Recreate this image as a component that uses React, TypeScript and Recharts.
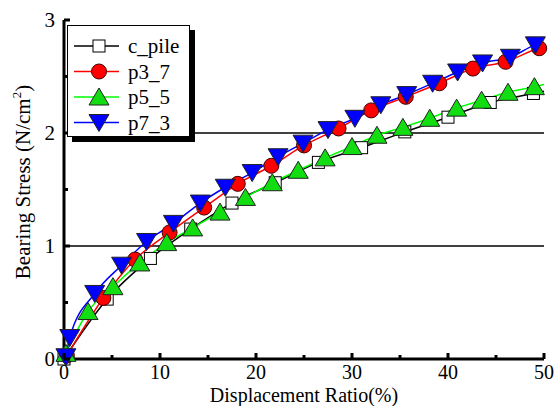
import React from "react"
import { LineChart, Line, XAxis, YAxis, ReferenceLine } from "recharts"

// c_pile
const cPileX = [0, 4.5, 9.0, 13.2, 17.5, 22.0, 26.5, 31.0, 35.5, 40.0, 44.4, 48.9, 50]
const cPileY = [0, 0.53, 0.89, 1.15, 1.38, 1.56, 1.74, 1.87, 2.01, 2.14, 2.27, 2.35, 2.37]
// p3_7
const p37X = [0.3, 4.1, 7.4, 11.0, 14.6, 18.1, 21.6, 25.0, 28.6, 32.0, 35.6, 39.1, 42.6, 46.0, 49.5, 50]
const p37Y = [0.03, 0.54, 0.88, 1.12, 1.34, 1.55, 1.71, 1.89, 2.04, 2.2, 2.32, 2.44, 2.57, 2.63, 2.75, 2.76]
// p5_5
const p55X = [0.2, 2.5, 5.1, 7.9, 10.7, 13.4, 16.25, 18.9, 21.7, 24.4, 27.2, 30.0, 32.6, 35.3, 38.1, 40.9, 43.5, 46.25, 49.0, 50]
const p55Y = [0.05, 0.42, 0.64, 0.85, 1.03, 1.16, 1.3, 1.43, 1.56, 1.67, 1.78, 1.88, 1.98, 2.05, 2.13, 2.22, 2.29, 2.36, 2.41, 2.43]
// p7_3
const p73X = [0.2, 0.6, 3.2, 6.0, 8.6, 11.4, 14.2, 16.8, 19.6, 22.3, 24.9, 27.5, 30.3, 33.0, 35.7, 38.4, 41.0, 43.6, 46.5, 49.1, 50]
const p73Y = [0.02, 0.19, 0.58, 0.83, 1.04, 1.2, 1.38, 1.52, 1.65, 1.79, 1.91, 2.03, 2.13, 2.25, 2.34, 2.44, 2.54, 2.62, 2.67, 2.78, 2.8]

const xTicks = [0, 5, 10, 15, 20, 25, 30, 35, 40, 45, 50]
const yTicks = [0, 0.5, 1, 1.5, 2, 2.5, 3]

const zip = (xs: number[], ys: number[]) => xs.map((x, i) => ({ x, y: ys[i] }))
const cPileData = zip(cPileX, cPileY)
const p37Data = zip(p37X, p37Y)
const p55Data = zip(p55X, p55Y)
const p73Data = zip(p73X, p73Y)

const FONT = "'Liberation Serif', 'Times New Roman', serif"
const txt = { fontFamily: FONT, fontSize: 21, fill: "#000" }
const txtSm = { fontFamily: FONT, fontSize: 20, fill: "#000" }

// markers, the last point (axis end) has no marker
const makeDot = (shape: string, len: number) => (props: any) => {
  const { cx, cy, index } = props
  if (cx == null || cy == null || index === len - 1) return <g key={`d-${shape}-${index}`} />
  const k = `d-${shape}-${index}`
  if (shape === "square")
    return <rect key={k} x={cx - 6} y={cy - 6} width={12} height={12} fill="#fff" stroke="#000" strokeWidth={1} />
  if (shape === "circle")
    return <circle key={k} cx={cx} cy={cy} r={7.5} fill="#ff0000" stroke="#400" strokeWidth={1} />
  if (shape === "up")
    return (
      <polygon key={k} points={`${cx},${cy - 9} ${cx - 10},${cy + 8} ${cx + 10},${cy + 8}`}
        fill="#11dd11" stroke="#222" strokeWidth={1} />
    )
  return (
    <polygon key={k} points={`${cx - 10},${cy - 8} ${cx + 10},${cy - 8} ${cx},${cy + 9}`}
      fill="#0000ff" stroke="#222" strokeWidth={1} />
  )
}

const BottomTick = (props: any) => {
  const { x, y, payload } = props
  const major = payload.value % 10 === 0
  return (
    <g>
      <line x1={x} x2={x} y1={y} y2={y - (major ? 6 : 4)} stroke="#000" strokeWidth={3} />
      {major && (
        <text x={x} y={y + 20} textAnchor="middle" style={txtSm}>
          {payload.value}
        </text>
      )}
    </g>
  )
}

const TopTick = (props: any) => {
  const { x, y, payload } = props
  const major = payload.value % 10 === 0
  return <line x1={x} x2={x} y1={y} y2={y + (major ? 6 : 4)} stroke="#000" strokeWidth={3} />
}

const LeftTick = (props: any) => {
  const { x, y, payload } = props
  const major = payload.value % 1 === 0
  return (
    <g>
      <line x1={x} x2={x + (major ? 6 : 4)} y1={y} y2={y} stroke="#000" strokeWidth={3} />
      {major && (
        <text x={x - 9} y={y + 7} textAnchor="end" style={txt}>
          {payload.value}
        </text>
      )}
    </g>
  )
}

const RightTick = (props: any) => {
  const { x, y, payload } = props
  const major = payload.value % 1 === 0
  return <line x1={x} x2={x - (major ? 6 : 4)} y1={y} y2={y} stroke="#000" strokeWidth={3} />
}

const legendRows = [
  { name: "c_pile", color: "#000", shape: "square" },
  { name: "p3_7", color: "#ff0000", shape: "circle" },
  { name: "p5_5", color: "#00ff00", shape: "up" },
  { name: "p7_3", color: "#0000ff", shape: "down" },
]

function LegendBox() {
  return (
    <div
      style={{
        position: "absolute", left: 67, top: 25, width: 121, height: 110,
        border: "1.5px solid #000", background: "#fff", boxShadow: "5px 5px 0 #000",
      }}
    >
      <svg width={121} height={110}>
        {legendRows.map((r, i) => {
          const cy = 20 + i * 25.5
          const dot = makeDot(r.shape, 99)
          return (
            <g key={r.name}>
              <line x1={6} x2={51} y1={cy} y2={cy} stroke={r.color} strokeWidth={1.5} />
              {dot({ cx: 31, cy, index: 0 })}
              <text x={60} y={cy + 7} style={txt}>{r.name}</text>
            </g>
          )
        })}
      </svg>
    </div>
  )
}

export default function App() {
  return (
    <div style={{ position: "absolute", left: 0, top: 0, width: 554, height: 406, background: "#fff" }}>
      <LineChart width={554} height={406} margin={{ top: 20, right: 10, bottom: 0, left: 0 }}>
        <XAxis
          type="number" dataKey="x" domain={[0, 50]} ticks={xTicks} interval={0}
          height={47} tickSize={0} tickMargin={0} tickLine={false}
          axisLine={{ stroke: "#000", strokeWidth: 3 }} tick={<BottomTick />}
          label={{
            content: () => (
              <text x={304} y={401.5} textAnchor="middle" style={txtSm}>
                Displacement Ratio(%)
              </text>
            ),
          }}
        />
        <XAxis
          xAxisId="top" orientation="top" type="number" domain={[0, 50]} ticks={xTicks} interval={0}
          height={0} tickSize={0} tickMargin={0} tickLine={false}
          axisLine={{ stroke: "#000", strokeWidth: 3 }} tick={<TopTick />}
        />
        <YAxis
          type="number" domain={[0, 3]} ticks={yTicks} interval={0}
          width={64} tickSize={0} tickMargin={0} tickLine={false}
          axisLine={{ stroke: "#000", strokeWidth: 3 }} tick={<LeftTick />}
          label={{
            content: () => (
              <text transform="translate(30,182) rotate(-90)" textAnchor="middle" style={txt}>
                Bearing Stress (N/cm<tspan dy={-9} fontSize={13}>2</tspan><tspan dy={9}>)</tspan>
              </text>
            ),
          }}
        />
        <YAxis
          yAxisId="right" orientation="right" type="number" domain={[0, 3]} ticks={yTicks} interval={0}
          width={0} tickSize={0} tickMargin={0} tickLine={false}
          axisLine={{ stroke: "#000", strokeWidth: 4 }} tick={<RightTick />}
        />
        <ReferenceLine y={1} stroke="#000" strokeWidth={1.5} />
        <ReferenceLine y={2} stroke="#000" strokeWidth={1.5} />
        <Line data={cPileData} dataKey="y" type="monotone" stroke="#000" strokeWidth={1.5}
          dot={makeDot("square", cPileData.length)} isAnimationActive={false} />
        <Line data={p37Data} dataKey="y" type="monotone" stroke="#ff0000" strokeWidth={1.5}
          dot={makeDot("circle", p37Data.length)} isAnimationActive={false} />
        <Line data={p55Data} dataKey="y" type="monotone" stroke="#00ff00" strokeWidth={1.5}
          dot={makeDot("up", p55Data.length)} isAnimationActive={false} />
        <Line data={p73Data} dataKey="y" type="monotone" stroke="#0000ff" strokeWidth={1.5}
          dot={makeDot("down", p73Data.length)} isAnimationActive={false} />
      </LineChart>
      <LegendBox />
    </div>
  )
}
